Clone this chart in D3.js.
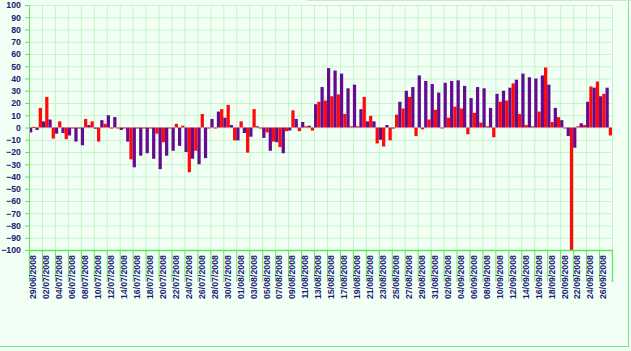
<!DOCTYPE html>
<html>
<head>
<meta charset="utf-8">
<script src="https://cdn.jsdelivr.net/npm/d3@7"></script>
<style>
  body { margin: 0; background: #f2fff5; }
  svg { display: block; }
</style>
</head>
<body>
<div id="chart"></div>
<script>
// categories (one per day, labels on every second one)
const dates = [
  '29/06/2008', '01/07/2008',
  '02/07/2008', '03/07/2008', '04/07/2008', '05/07/2008', '06/07/2008', '07/07/2008', '08/07/2008', '09/07/2008',
  '10/07/2008', '11/07/2008', '12/07/2008', '13/07/2008', '14/07/2008', '15/07/2008', '16/07/2008', '17/07/2008',
  '18/07/2008', '19/07/2008', '20/07/2008', '21/07/2008', '22/07/2008', '23/07/2008', '24/07/2008', '25/07/2008',
  '26/07/2008', '27/07/2008', '28/07/2008', '29/07/2008', '30/07/2008', '31/07/2008',
  '01/08/2008', '02/08/2008', '03/08/2008', '04/08/2008', '05/08/2008', '06/08/2008', '07/08/2008', '08/08/2008',
  '09/08/2008', '10/08/2008', '11/08/2008', '12/08/2008', '13/08/2008', '14/08/2008', '15/08/2008', '16/08/2008',
  '17/08/2008', '18/08/2008', '19/08/2008', '20/08/2008', '21/08/2008', '22/08/2008', '23/08/2008', '24/08/2008',
  '25/08/2008', '26/08/2008', '27/08/2008', '28/08/2008', '29/08/2008', '30/08/2008', '31/08/2008',
  '01/09/2008', '02/09/2008', '03/09/2008', '04/09/2008', '05/09/2008', '06/09/2008', '07/09/2008', '08/09/2008',
  '09/09/2008', '10/09/2008', '11/09/2008', '12/09/2008', '13/09/2008', '14/09/2008', '15/09/2008', '16/09/2008',
  '17/09/2008', '18/09/2008', '19/09/2008', '20/09/2008', '21/09/2008', '22/09/2008', '23/09/2008', '24/09/2008',
  '25/09/2008', '26/09/2008', '27/09/2008'
]

// purple series (left bar of each day)
const purpleVals = [
  -4, -2, 5, 6.5, -5, -4.5, -6.5, -11.5, -14.5, 2,
  -1, 6, 10, 8.5, -2, -11.5, -32.5, -23, -21, -25.5,
  -34, -23, -19, -15, -20, -25.5, -30, -25, 7, 13,
  8, 2, -10.5, -4.5, -7.5, 1, -8.5, -19, -12, -21,
  -2.5, 7, 4.5, 1.5, 19, 33, 48.5, 46.5, 44, 32,
  35, 15, 5, 5, -10, 2, 0, 21, 30, 33,
  42.5, 38, 35.5, 28.5, 36.5, 38, 38.5, 34, 24, 33,
  32, 16, 27.5, 30, 32.5, 39, 44, 41, 40, 42.5,
  35, 16, 6, -7, -16.5, 3.5, 21, 32.5, 25.5, 32.5
]

// red series (right bar of each day)
const redVals = [
  0.5, 16, 25, -9, 5, -9.5, 0, 0, 7, 5,
  -11.5, 3, 0, 0, 0, -26, 0, 0, 0, -5,
  -12, 0, 3, 1.5, -36.5, -19, 11, 0, 0, 15,
  18.5, -10.5, 5, -20.5, 15, 0, -4, -11.5, -16, -3,
  14, -3, 1, -2.5, 21, 22, 25.5, 27, 11, 1,
  1, 25, 9.5, -13, -15.5, -10.5, 10.5, 15.5, 25, -7,
  -1.5, 6.5, 14.5, 0, 8, 17, 15.5, -5.5, 12, 4,
  1, -8, 21, 22, 36, 11, 2, 1, 13, 49,
  4.5, 8.5, 0, -100, 1, 2, 33.5, 37.5, 27.5, -6.5
]

const yTicks = [100, 90, 80, 70, 60, 50, 40, 30, 20, 10, 0, -10, -20, -30, -40, -50, -60, -70, -80, -90, -100]

const W = 631, H = 351
const margin = { top: 5, left: 29, right: 19, bottom: 101 }
const plotW = W - margin.left - margin.right
const plotH = H - margin.top - margin.bottom
const gridColor = '#c4f5c8', axisColor = '#5ce65c', textColor = '#1c1c78'
const colors = { p: '#650a91', r: '#ff0a0a' }

const svg = d3.select('#chart').append('svg').attr('width', W).attr('height', H)
  .style('font-family', '"DejaVu Sans", Verdana, sans-serif')

// outer frame (only right and bottom edges are visible)
svg.append('rect').attr('x', -2).attr('y', -2).attr('width', 630.5).attr('height', 348.5)
  .attr('fill', '#f2fff5').attr('stroke', '#7ee27e')
svg.append('line').attr('x1', 307).attr('x2', W).attr('y1', 0.5).attr('y2', 0.5).attr('stroke', '#dcdcdc')

const g = svg.append('g').attr('transform', `translate(${margin.left}, ${margin.top})`)

const x = d3.scaleBand().domain(dates).range([0, plotW])
const xs = d3.scaleBand().domain(['p', 'r']).range([0, x.bandwidth()])
const xl = d3.scaleLinear().domain([0, dates.length]).range([0, plotW])
const y = d3.scaleLinear().domain([-100, 100]).range([plotH, 0])
const gridIdx = d3.range(0, dates.length + 1, 2)

// grid
g.append('g').classed('grid', true)
  .call(d3.axisLeft(y).tickValues(yTicks).tickSize(-plotW).tickFormat(''))
  .call(s => s.select('.domain').remove())
  .selectAll('line').attr('stroke', gridColor)
g.append('g').classed('grid', true)
  .call(d3.axisBottom(xl).tickValues(gridIdx).tickSize(plotH).tickFormat(''))
  .call(s => s.select('.domain').remove())
  .selectAll('line').attr('stroke', gridColor)

// bars
const rows = dates.map((d, i) => ({ date: d, p: purpleVals[i], r: redVals[i] }))
const day = g.selectAll('.day').data(rows).enter().append('g').classed('day', true)
  .attr('transform', d => `translate(${x(d.date)}, 0)`)
day.selectAll('rect').data(d => ['p', 'r'].map(k => ({ k, v: d[k] }))).enter().append('rect')
  .attr('x', d => xs(d.k))
  .attr('width', xs.bandwidth())
  .attr('y', d => Math.min(y(d.v), y(0)))
  .attr('height', d => Math.max(1, Math.abs(y(d.v) - y(0))))
  .attr('fill', d => colors[d.k])

// y axis
const yAxis = g.append('g').classed('axis yAxis', true)
  .call(d3.axisLeft(y).tickValues(yTicks).tickSize(4).tickPadding(4))
yAxis.select('.domain').attr('stroke', axisColor)
yAxis.selectAll('line').attr('stroke', axisColor)
yAxis.selectAll('text').attr('fill', textColor).style('font-size', '8.8px').style('font-weight', 'bold')

// x axis ticks below the plot
g.append('g').classed('axis xTicks', true)
  .attr('transform', `translate(0, ${plotH})`)
  .call(d3.axisBottom(xl).tickValues(gridIdx).tickSize(32).tickFormat(''))
  .call(s => s.select('.domain').attr('stroke', axisColor).attr('stroke-width', 1.3))
  .selectAll('line').attr('stroke', axisColor)

// x labels
const xAxis = g.append('g').classed('axis xAxis', true)
  .attr('transform', `translate(0, ${plotH})`)
  .call(d3.axisBottom(x).tickValues(dates.filter((d, i) => i % 2 === 0)).tickSize(0))
xAxis.select('.domain').remove()
xAxis.selectAll('text')
  .attr('transform', 'rotate(-90)')
  .attr('x', -5).attr('y', 1).attr('dy', '0.35em')
  .style('text-anchor', 'end')
  .attr('fill', textColor).style('font-size', '8.8px').style('font-weight', 'bold')
</script>
</body>
</html>
